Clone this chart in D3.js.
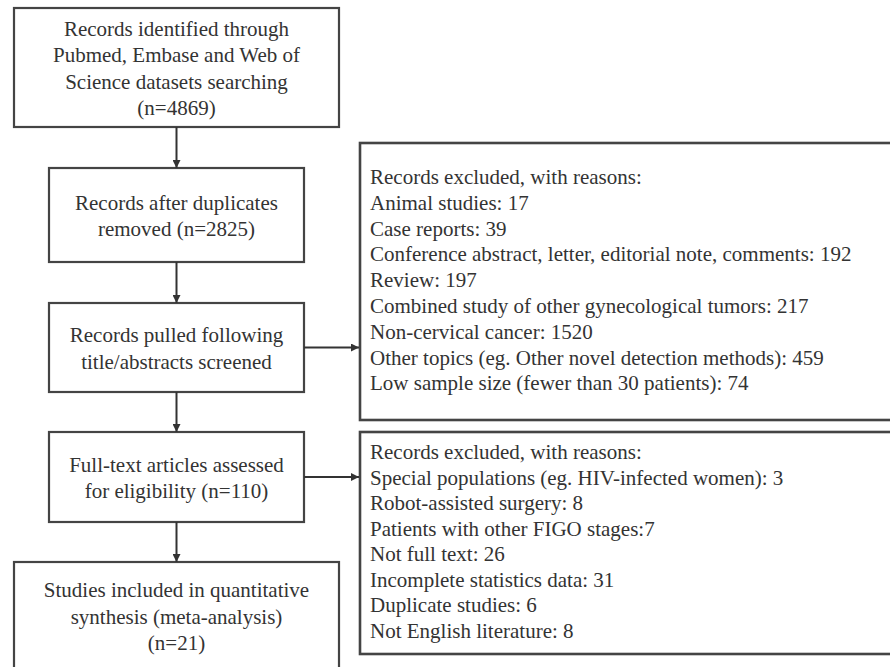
<!DOCTYPE html>
<html>
<head>
<meta charset="utf-8">
<script src="https://cdn.jsdelivr.net/npm/d3@7"></script>
<style>
  body { margin: 0; background: #fff; }
</style>
</head>
<body>
<script>
const W = 890, H = 667

// Flow steps (left column), one entry per box, lines of text
const steps = [
  ['Records identified through', 'Pubmed, Embase and Web of', 'Science datasets searching', '(n=4869)'],
  ['Records after duplicates', 'removed (n=2825)'],
  ['Records pulled following', 'title/abstracts screened'],
  ['Full-text articles assessed', 'for eligibility (n=110)'],
  ['Studies included in quantitative', 'synthesis (meta-analysis)', '(n=21)']
]

// Exclusions after title/abstract screening
const excl1Labels = ['Animal studies', 'Case reports', 'Conference abstract, letter, editorial note, comments',
  'Review', 'Combined study of other gynecological tumors', 'Non-cervical cancer',
  'Other topics (eg. Other novel detection methods)', 'Low sample size (fewer than 30 patients)']
const excl1Counts = [17, 39, 192, 197, 217, 1520, 459, 74]

// Exclusions after full-text assessment
const excl2Labels = ['Special populations (eg. HIV-infected women)', 'Robot-assisted surgery',
  'Patients with other FIGO stages', 'Not full text', 'Incomplete statistics data',
  'Duplicate studies', 'Not English literature']
const excl2Counts = [3, 8, 7, 26, 31, 6, 8]
const excl2Sep = [': ', ': ', ':', ': ', ': ', ': ', ': ']

const header = 'Records excluded, with reasons:'

const FONT = '"Liberation Serif"'
const fontSize = 21
const textColor = '#333'

// make sure the serif face is ready before anything is drawn
const ctx = document.createElement('canvas').getContext('2d')
ctx.font = `${fontSize}px ${FONT}`
ctx.measureText(header)
document.fonts.check(`${fontSize}px ${FONT}`)

const svg = d3.select('body').append('svg')
  .attr('width', W)
  .attr('height', H)

const defs = svg.append('defs')
defs.append('marker')
  .attr('id', 'arrow')
  .attr('viewBox', '0 0 10 10')
  .attr('refX', 10).attr('refY', 5)
  .attr('markerWidth', 8).attr('markerHeight', 8)
  .attr('markerUnits', 'userSpaceOnUse')
  .attr('orient', 'auto')
  .append('path')
  .attr('d', 'M0,0 L10,5 L0,10 z')
  .attr('fill', '#333')

// box geometry for the left column
const leftBoxes = [
  {x0: 14, x1: 339, y0: 8, y1: 127},
  {x0: 49, x1: 304, y0: 168, y1: 262},
  {x0: 49, x1: 304, y0: 303, y1: 392},
  {x0: 49, x1: 304, y0: 432, y1: 522},
  {x0: 14, x1: 339, y0: 562, y1: 700}
]
const lineGap = 26.5

const col = svg.append('g').classed('steps', true)
const box = col.selectAll('g.step')
  .data(steps)
  .enter().append('g').classed('step', true)

box.append('rect')
  .attr('x', (d, i) => leftBoxes[i].x0)
  .attr('y', (d, i) => leftBoxes[i].y0)
  .attr('width', (d, i) => leftBoxes[i].x1 - leftBoxes[i].x0)
  .attr('height', (d, i) => leftBoxes[i].y1 - leftBoxes[i].y0)
  .attr('fill', '#fff')
  .attr('stroke', '#444')
  .attr('stroke-width', 2.2)

// last box runs off the bottom, so its text is placed by hand
function stepCenterY(i) {
  const b = leftBoxes[i]
  if (i === 4) return 616.5
  return (b.y0 + b.y1) / 2 + 1
}

box.each(function(lines, i) {
  const b = leftBoxes[i]
  const cx = (b.x0 + b.x1) / 2
  const cy = stepCenterY(i)
  const y = d3.scaleLinear().domain([0, lines.length - 1]).range([
    cy - (lines.length - 1) / 2 * lineGap, cy + (lines.length - 1) / 2 * lineGap])
  d3.select(this).selectAll('text')
    .data(lines)
    .enter().append('text')
    .attr('x', cx)
    .attr('y', (d, j) => y(j) + 7)
    .attr('text-anchor', 'middle')
    .attr('font-size', fontSize)
    .attr('font-family', 'Liberation Serif')
    .attr('fill', textColor)
    .style('font-family', FONT)
    .text(d => d)
})

// vertical arrows between steps
const arrows = svg.append('g').classed('arrows', true)
arrows.selectAll('line.down')
  .data(d3.range(steps.length - 1))
  .enter().append('line').classed('down', true)
  .attr('x1', 176.5).attr('x2', 176.5)
  .attr('y1', i => leftBoxes[i].y1)
  .attr('y2', i => leftBoxes[i + 1].y0)
  .attr('stroke', '#333')
  .attr('stroke-width', 2)
  .attr('marker-end', 'url(#arrow)')

// exclusion boxes on the right
const rightBoxes = [
  {from: 2, y0: 143, y1: 420, top: 177, gap: 25.8,
    lines: [header, ...excl1Labels.map((l, i) => `${l}: ${excl1Counts[i]}`)]},
  {from: 3, y0: 432, y1: 654, top: 452, gap: 25.5,
    lines: [header, ...excl2Labels.map((l, i) => `${l}${excl2Sep[i]}${excl2Counts[i]}`)]}
]

const ex = svg.append('g').classed('exclusions', true)
  .selectAll('g.excl')
  .data(rightBoxes)
  .enter().append('g').classed('excl', true)

ex.append('rect')
  .attr('x', 360)
  .attr('y', d => d.y0)
  .attr('width', 560)
  .attr('height', d => d.y1 - d.y0)
  .attr('fill', '#fff')
  .attr('stroke', '#444')
  .attr('stroke-width', 2.6)

ex.selectAll('text')
  .data(d => d.lines.map((t, j) => ({t, y: d.top + j * d.gap})))
  .enter().append('text')
  .attr('x', 370)
  .attr('y', d => d.y + 7)
  .attr('font-size', fontSize)
  .attr('font-family', 'Liberation Serif')
  .attr('fill', textColor)
  .style('font-family', FONT)
  .text(d => d.t)

ex.append('line')
  .attr('x1', d => leftBoxes[d.from].x1)
  .attr('x2', 359)
  .attr('y1', d => (leftBoxes[d.from].y0 + leftBoxes[d.from].y1) / 2)
  .attr('y2', d => (leftBoxes[d.from].y0 + leftBoxes[d.from].y1) / 2)
  .attr('stroke', '#333')
  .attr('stroke-width', 1.8)
  .attr('marker-end', 'url(#arrow)')
</script>
</body>
</html>
